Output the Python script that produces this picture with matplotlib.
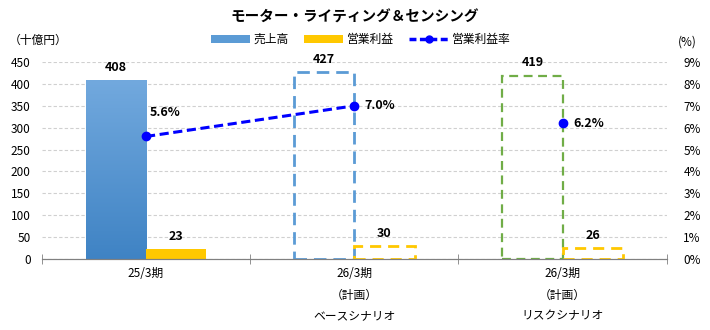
import numpy as np
import matplotlib
matplotlib.use('Agg')
from matplotlib import pyplot as plt
from matplotlib.lines import Line2D
from matplotlib.patches import Patch

plt.rcParams['font.family'] = ['Noto Sans CJK JP', 'DejaVu Sans']

# データ
categories = ['25/3期', '26/3期\n（計画）\nベースシナリオ', '26/3期\n（計画）\nリスクシナリオ']
sales = [408, 427, 419]       # 売上高（十億円）
profit = [23, 30, 26]         # 営業利益（十億円）
margin = [5.6, 7.0, 6.2]      # 営業利益率（%）

fig = plt.figure(figsize=(7.1, 3.3), dpi=100)
ax = fig.add_axes([0.059, 0.215, 0.88, 0.597])
ax2 = ax.twinx()

x = np.arange(len(categories))
w = 0.29

# 実績：売上高はグラデーション、営業利益は塗りつぶし
b = ax.bar(x[0] - w / 2, sales[0], w, color='none', edgecolor='none')[0]
grad = np.linspace(0, 1, 256).reshape(-1, 1)
cmap = matplotlib.colors.LinearSegmentedColormap.from_list('blu', ['#3F83C4', '#72A9DE'])
im = ax.imshow(grad, cmap=cmap, aspect='auto', origin='lower',
               extent=[b.get_x(), b.get_x() + b.get_width(), 0, b.get_height()], zorder=2)
im.set_clip_path(b)
ax.bar(x[0] + w / 2, profit[0], w, color='#FFC800', zorder=2)

# 計画：点線の枠
ax.bar(x[1] - w / 2, sales[1], w, facecolor='none', edgecolor='#5B9BD5',
       linewidth=2, linestyle=(0, (4.5, 2.5)), zorder=2)
ax.bar(x[2] - w / 2, sales[2], w, facecolor='none', edgecolor='#70AD47',
       linewidth=1.6, linestyle=(0, (4, 2.5)), zorder=2)
for i in (1, 2):
    ax.bar(x[i] + w / 2, profit[i], w, facecolor='none', edgecolor='#FFC800',
           linewidth=2, linestyle=(0, (4, 2.5)), zorder=2)

# 数値ラベル
for i in range(3):
    ax.text(x[i] - w / 2, sales[i] + 14, str(sales[i]), ha='center', va='bottom',
            fontsize=9, fontweight='bold')
    ax.text(x[i] + w / 2, profit[i] + 14, str(profit[i]), ha='center', va='bottom',
            fontsize=9, fontweight='bold')

# 営業利益率
ax2.plot(x[:2], margin[:2], color='#0000FF', linestyle=(0, (3, 1.5)), linewidth=2.2,
         marker='o', markersize=6, zorder=5)
ax2.plot(x[2:], margin[2:], color='#0000FF', linestyle='none', marker='o', markersize=6, zorder=5)
offsets = [(0.02, 1.1), (0.05, 0.0), (0.05, 0.0)]
for i in range(3):
    ax2.text(x[i] + offsets[i][0], margin[i] + offsets[i][1], f'{margin[i]:.1f}%',
             ha='left', va='center', fontsize=9, fontweight='bold')

ax.set_xlim(-0.5, 2.5)
ax.set_ylim(0, 450)
ax2.set_ylim(0, 9)
ax.set_yticks(range(0, 451, 50))
ax2.set_yticks(range(0, 10))
ax2.set_yticklabels([f'{v}%' for v in range(0, 10)])
ax.set_xticks(x + 0.0)
ax.set_xticklabels(categories, linespacing=1.8)
ax.set_xticks([-0.5, 0.5, 1.5, 2.5], minor=True)

ax.grid(axis='y', color='#D0D0D0', linestyle=(0, (3, 2)), linewidth=0.8)
ax.set_axisbelow(True)
for a in (ax, ax2):
    for s in ('top', 'left', 'right'):
        a.spines[s].set_visible(False)
    a.spines['bottom'].set_color('#808080')
ax.tick_params(axis='y', length=0, labelsize=8.5, pad=8)
ax2.tick_params(axis='y', length=0, labelsize=8.5, pad=12)
ax.tick_params(axis='x', which='major', length=0, labelsize=8.5, pad=6)
ax.tick_params(axis='x', which='minor', length=7, direction='inout', color='#808080')

fig.text(0.5, 0.95, 'モーター・ライティング＆センシング', ha='center', va='center',
         fontsize=10.5, fontweight='bold')
fig.text(0.012, 0.878, '（十億円）', ha='left', va='center', fontsize=8.5)
fig.text(0.955, 0.872, '(%)', ha='left', va='center', fontsize=8.5)

handles = [Patch(facecolor='#5B9BD5'), Patch(facecolor='#FFC800'),
           Line2D([], [], color='#0000FF', linestyle=(0, (2, 1)), linewidth=2.5,
                  marker='o', markersize=5)]
fig.legend(handles, ['売上高', '営業利益', '営業利益率'], loc='center',
           bbox_to_anchor=(0.508, 0.88), ncol=3, frameon=False, fontsize=8.5,
           handlelength=3.3, handleheight=0.6, handletextpad=0.3, columnspacing=1.3)

fig.savefig('out.png', dpi=100)
